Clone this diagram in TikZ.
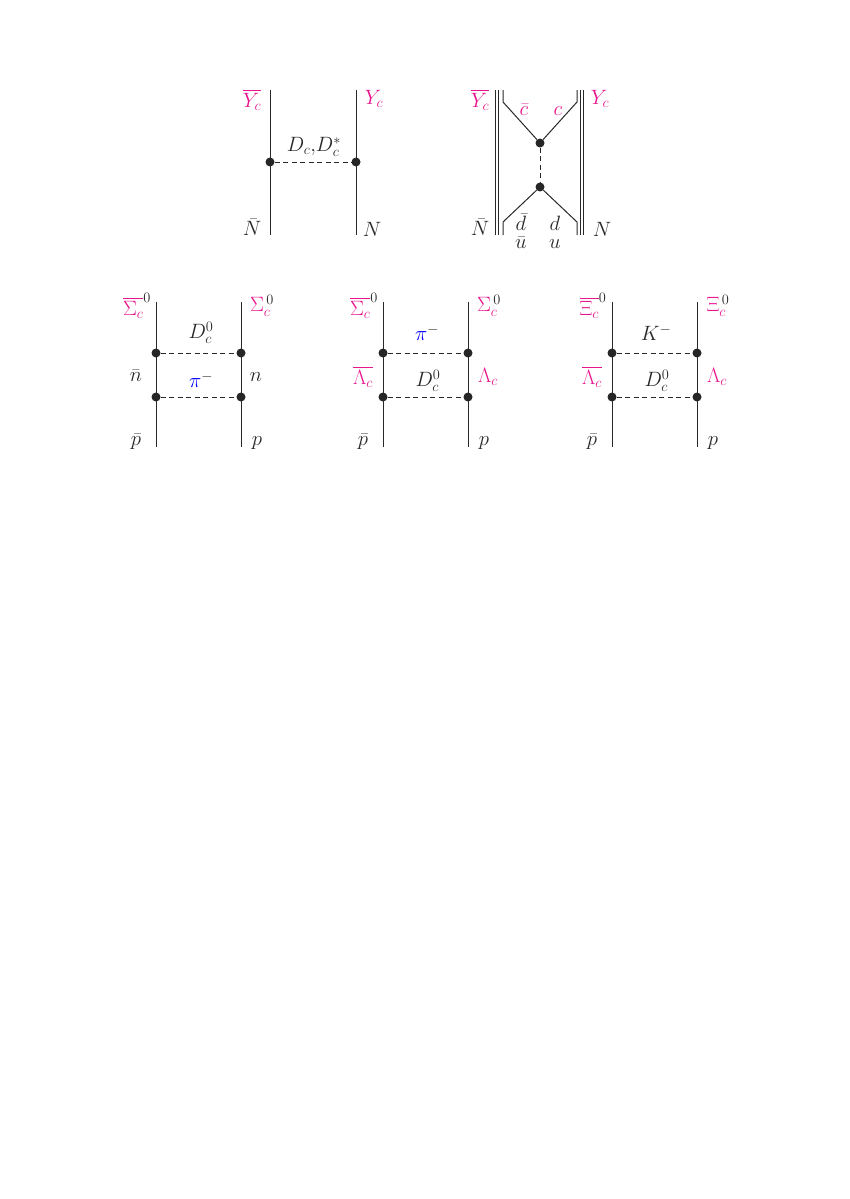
\documentclass[tikz,border=0pt]{standalone}
\usepackage{amsmath}
\definecolor{mag}{RGB}{232,20,140}
\definecolor{ln}{RGB}{40,40,40}
\begin{document}
\begin{tikzpicture}[x=1pt,y=-1pt,
  lab/.style={font=\huge,text=ln,inner sep=0pt},
  mg/.style={lab,text=mag},
  bl/.style={lab,text=blue},
  fer/.style={draw=ln,line width=1pt},
  bos/.style={draw=ln,line width=0.9pt,dashed,dash pattern=on 5pt off 3.5pt},
  vx/.style={circle,fill=black!85,inner sep=0pt,minimum size=9pt}]
\useasboundingbox (0,0) rectangle (849,1199);
% diagram 1
\coordinate (a1) at (270,90); \coordinate (a2) at (270,235);
\coordinate (b1) at (356,90); \coordinate (b2) at (356,235);
\node[vx] (va) at (270,162) {}; \node[vx] (vb) at (356,162) {};
\draw[fer] (a1)--(a2); \draw[fer] (b1)--(b2);
\draw[bos] (va)--(vb);
\node[lab] (l1) at (314,147) {$D_c,\!D_c^*$};
\node[mg] (l2) at (252,100) {$\overline{Y_c}$};
\node[mg] (l3) at (374,99) {$Y_c$};
\node[lab] (l4) at (252,227) {$\bar N$};
\node[lab] (l5) at (372,229) {$N$};
% diagram 2
\foreach \x in {495,498,580,583} {\draw[fer] (\x,90)--(\x,235);}
\node[vx] (vt) at (540,143) {}; \node[vx] (vd) at (540,187) {};
\coordinate (t1) at (503,90); \coordinate (t2) at (503,102);
\coordinate (t3) at (577,90); \coordinate (t4) at (577,102);
\coordinate (d1) at (503,235); \coordinate (d2) at (503,222);
\coordinate (d3) at (577,235); \coordinate (d4) at (577,222);
\draw[fer] (t1)--(t2)--(vt)--(t4)--(t3);
\draw[fer] (d1)--(d2)--(vd)--(d4)--(d3);
\draw[bos] (vt)--(vd);
\node[mg] (m1) at (480,100) {$\overline{Y_c}$};
\node[mg] (m2) at (600,99) {$Y_c$};
\node[lab] (m3) at (480,227) {$\bar N$};
\node[lab] (m4) at (602,229) {$N$};
\node[mg] (m5) at (524,110) {$\bar c$};
\node[mg] (m6) at (558,111) {$c$};
\node[lab] (m7) at (521,222) {$\bar d$};
\node[lab] (m8) at (555,223) {$d$};
\node[lab] (m9) at (521,243) {$\bar u$};
\node[lab] (m10) at (555,244) {$u$};
% bottom diagrams
\foreach \o/\n in {0/A,227/B,456/C} {
  \begin{scope}[xshift=\o]
  \coordinate (\n l1) at (156,302); \coordinate (\n l2) at (156,447);
  \coordinate (\n r1) at (241,302); \coordinate (\n r2) at (241,447);
  \draw[fer] (\n l1)--(\n l2); \draw[fer] (\n r1)--(\n r2);
  \node[vx] (\n a) at (156,353) {}; \node[vx] (\n b) at (241,353) {};
  \node[vx] (\n c) at (156,397) {}; \node[vx] (\n d) at (241,397) {};
  \draw[bos] (\n a)--(\n b); \draw[bos] (\n c)--(\n d);
  \node[lab] (\n p1) at (136,442) {$\bar p$};
  \node[lab] (\n p2) at (257,443) {$p$};
  \end{scope}}
\node[mg] (s1) at (137,306) {$\overline{\Sigma_c}^{\textcolor{ln}{0}}$};
\node[mg] (s2) at (262,306) {$\Sigma_c^{\,\textcolor{ln}{0}}$};
\node[lab] (s3) at (201,333) {$D_c^0$};
\node[bl] (s4) at (201,380) {$\pi^{\textcolor{ln}{-}}$};
\node[lab] (s5) at (136,376) {$\bar n$};
\node[lab] (s6) at (256,377) {$n$};
\node[mg] (u1) at (364,306) {$\overline{\Sigma_c}^{\textcolor{ln}{0}}$};
\node[mg] (u2) at (489,306) {$\Sigma_c^{\,\textcolor{ln}{0}}$};
\node[bl] (u3) at (427,333) {$\pi^{\textcolor{ln}{-}}$};
\node[lab] (u4) at (428,381) {$D_c^0$};
\node[mg] (u5) at (363,377) {$\overline{\Lambda_c}$};
\node[mg] (u6) at (488,377) {$\Lambda_c$};
\node[mg] (w1) at (593,306) {$\overline{\Xi_c}^{\textcolor{ln}{0}}$};
\node[mg] (w2) at (718,306) {$\Xi_c^{\,\textcolor{ln}{0}}$};
\node[lab] (w3) at (656,333) {$K^-$};
\node[lab] (w4) at (657,381) {$D_c^0$};
\node[mg] (w5) at (592,377) {$\overline{\Lambda_c}$};
\node[mg] (w6) at (717,377) {$\Lambda_c$};
\end{tikzpicture}
\end{document}
